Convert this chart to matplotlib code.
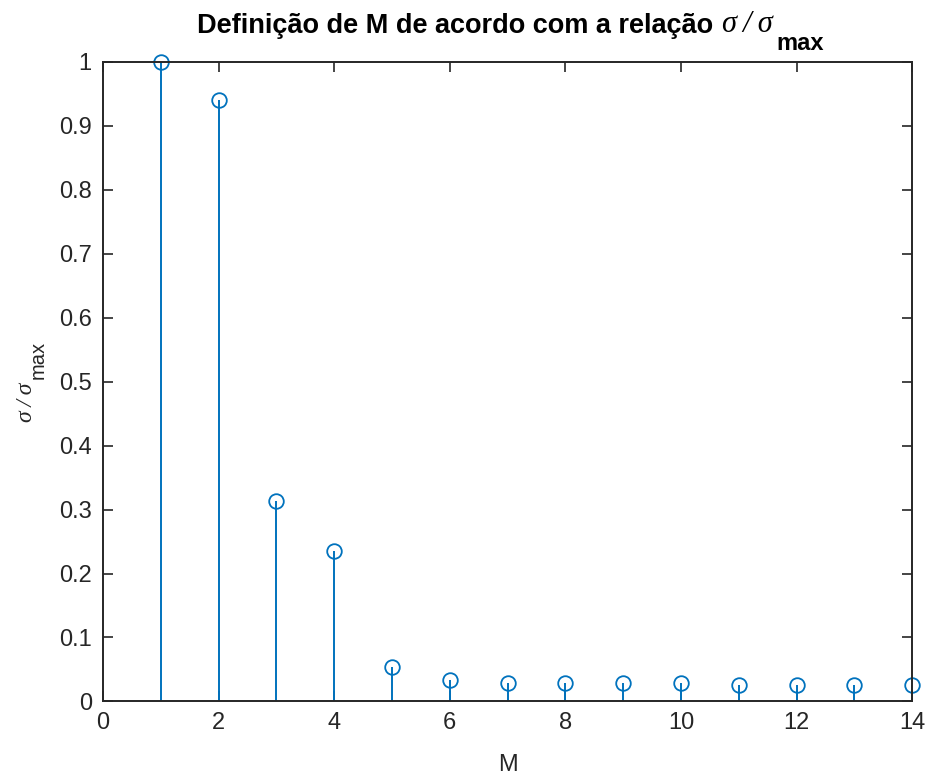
import numpy as np
import matplotlib.pyplot as plt

plt.rcParams['font.family'] = ['Liberation Sans', 'DejaVu Sans']

# sigma / sigma_max for each number of components M
M = np.arange(1, 15)
sigma_ratio = [1.0, 0.941, 0.313, 0.235, 0.053, 0.034, 0.029,
               0.029, 0.029, 0.029, 0.026, 0.026, 0.026, 0.026]

blue = '#0072BD'
dark = '#262626'

fig = plt.figure(figsize=(9.27, 7.75), dpi=100)
ax = fig.add_axes([0.111, 0.095, 0.873, 0.825])

markers, stems, base = ax.stem(M, sigma_ratio, basefmt=' ')
plt.setp(stems, color=blue, linewidth=1.4)
plt.setp(markers, marker='o', markersize=10.5, markerfacecolor='none',
         markeredgecolor=blue, markeredgewidth=1.3, clip_on=False)

ax.set_xlim(0, 14)
ax.set_ylim(0, 1)
ax.set_xticks(np.arange(0, 15, 2))
yt = np.round(np.arange(0, 1.01, 0.1), 1)
ax.set_yticks(yt)
ax.set_yticklabels(['0' if v == 0 else ('1' if v == 1 else f'{v:g}') for v in yt])

ax.tick_params(direction='in', length=7, width=1.2, colors=dark, labelsize=17,
               top=True, right=True, pad=8)
for s in ax.spines.values():
    s.set_color(dark)
    s.set_linewidth(1.4)

ax.set_xlabel('M', fontsize=17, color=dark, labelpad=14)

# y label: sigma/sigma with a "max" subscript, built from pieces
fig.text(26 / 927, 1 - 422 / 775, 'σ\u2009/\u2009σ', rotation=90, ha='center', va='bottom',
         fontsize=17, family='Liberation Serif', style='italic', color=dark)
fig.text(38 / 927, 1 - 379 / 775, 'max', rotation=90, ha='center', va='bottom',
         fontsize=14.5, color=dark)

# title in three pieces: text, sigma/sigma, lowered "max"
t1 = fig.text(197 / 927, 1 - 33 / 775, 'Definição de M de acordo com a relação',
              fontsize=19.5, fontweight='bold', color='black', va='baseline')
t2 = ax.annotate('σ\u2009/\u2009σ', xy=(1, 0), xycoords=t1, xytext=(9, 0),
                 textcoords='offset pixels', ha='left', va='bottom',
                 fontsize=22, family='Liberation Serif', style='italic', color='black')
t3 = ax.annotate('max', xy=(1, 0), xycoords=t2, xytext=(3, -11),
                 textcoords='offset pixels', ha='left', va='baseline',
                 fontsize=17, fontweight='bold', color='black')

fig.savefig('out.png', dpi=100)
